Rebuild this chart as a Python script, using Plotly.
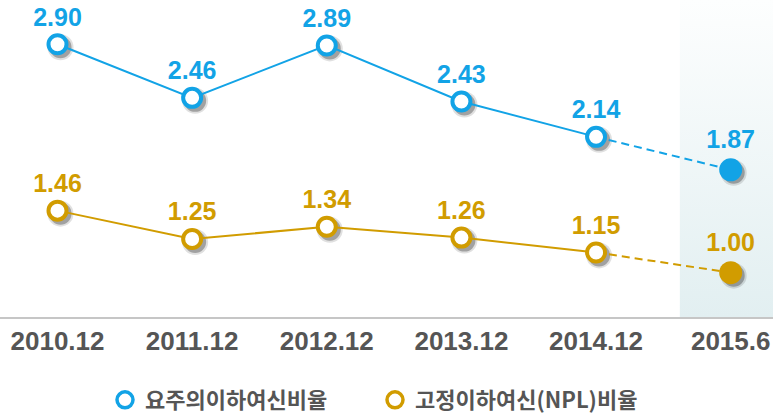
import plotly.graph_objects as go

# ---------------- data ----------------
periods = ["2010.12", "2011.12", "2012.12", "2013.12", "2014.12", "2015.6"]
substandard_ratio = [2.90, 2.46, 2.89, 2.43, 2.14, 1.87]   # 요주의이하여신비율
npl_ratio = [1.46, 1.25, 1.34, 1.26, 1.15, 1.00]           # 고정이하여신(NPL)비율
series_names = ["요주의이하여신비율", "고정이하여신(NPL)비율"]

# ---------------- styling ----------------
W, H = 773, 415
PLOT_H = 317
BLUE = "#12a3e6"
GOLD = "#d19c00"
GREY_TXT = "#555555"
NUM_FONT = "Liberation Sans"
KR_FONT = "Noto Sans CJK KR"

xpos = list(range(len(periods)))
X_RANGE = [-0.4271, 5.3142]
BLUE_RANGE = [0.6623, 3.2627]
GOLD_RANGE = [0.6710, 3.0226]
SHADOW_DX, SHADOW_DY = 3, 3  # px


def shift_x(r, px):
    u = (r[1] - r[0]) / W
    return [r[0] - px * u, r[1] - px * u]


def shift_y(r, px):
    u = (r[1] - r[0]) / PLOT_H
    return [r[0] + px * u, r[1] + px * u]


fig = go.Figure()

# shaded forecast region (on main subplot, behind everything)
sh_y = shift_y(BLUE_RANGE, SHADOW_DY)
fig.add_trace(go.Scatter(
    x=[4.60, 5.40, 5.40, 4.60, 4.60], y=[sh_y[0], sh_y[0], sh_y[1], sh_y[1], sh_y[0]],
    mode="lines", line=dict(width=0), fill="toself",
    fillgradient=dict(type="vertical", colorscale=[[0, "#e2eff1"], [1, "#fdfefe"]]),
    hoverinfo="skip", showlegend=False, xaxis="x", yaxis="y"))

# drop shadows of markers
for vals, ya in ((substandard_ratio, "y"), (npl_ratio, "y2")):
    for size, col in ((26, "rgba(0,0,0,0.12)"), (22, "rgba(0,0,0,0.28)")):
        fig.add_trace(go.Scatter(
            x=xpos, y=vals, mode="markers",
            marker=dict(size=size, color=col, line=dict(width=0)),
            hoverinfo="skip", showlegend=False, xaxis="x", yaxis=ya))

label_font_size = 25
for vals, col, ya in ((substandard_ratio, BLUE, "y3"), (npl_ratio, GOLD, "y4")):
    # dashed projection segment
    fig.add_trace(go.Scatter(
        x=xpos[4:], y=vals[4:], mode="lines",
        line=dict(color=col, width=2, dash="8px,5px"),
        hoverinfo="skip", showlegend=False, xaxis="x2", yaxis=ya))
    # solid historical line with open markers
    fig.add_trace(go.Scatter(
        x=xpos[:5], y=vals[:5], mode="lines+markers+text",
        line=dict(color=col, width=2),
        marker=dict(size=18, color="white", line=dict(color=col, width=4)),
        text=[f"{v:.2f}" for v in vals[:5]], textposition="top center",
        textfont=dict(family=NUM_FONT, size=label_font_size, color=col, weight="bold"),
        hoverinfo="skip", showlegend=False, xaxis="x2", yaxis=ya))
    # latest point filled
    fig.add_trace(go.Scatter(
        x=xpos[5:], y=vals[5:], mode="markers+text",
        marker=dict(size=23, color=col, line=dict(width=0)),
        text=[f"{v:.2f}" for v in vals[5:]], textposition="top center",
        textfont=dict(family=NUM_FONT, size=label_font_size, color=col, weight="bold"),
        hoverinfo="skip", showlegend=False, xaxis="x2", yaxis=ya))

# legend entries
for name, col in zip(series_names, (BLUE, GOLD)):
    fig.add_trace(go.Scatter(
        x=[None], y=[None], mode="markers", name=name,
        marker=dict(size=16, color="white", line=dict(color=col, width=3.5)),
        xaxis="x2", yaxis="y3"))

hidden = dict(visible=False, showgrid=False, zeroline=False, fixedrange=True)
fig.update_layout(
    width=W, height=H,
    margin=dict(l=0, r=0, t=0, b=H - PLOT_H, pad=0, autoexpand=False),
    paper_bgcolor="white", plot_bgcolor="white",
    xaxis=dict(range=shift_x(X_RANGE, SHADOW_DX), **hidden),
    yaxis=dict(range=shift_y(BLUE_RANGE, SHADOW_DY), **hidden),
    yaxis2=dict(range=shift_y(GOLD_RANGE, SHADOW_DY), overlaying="y", **hidden),
    yaxis3=dict(range=BLUE_RANGE, overlaying="y", **hidden),
    yaxis4=dict(range=GOLD_RANGE, overlaying="y", **hidden),
    xaxis2=dict(
        range=X_RANGE, overlaying="x", side="bottom", anchor="y3",
        tickmode="array", tickvals=xpos, ticktext=periods,
        showgrid=False, zeroline=False, showline=True, linecolor="#c6c6c6", linewidth=2,
        ticks="", tickfont=dict(family=NUM_FONT, size=26, color=GREY_TXT, weight="bold"),
        fixedrange=True),
    showlegend=True,
    legend=dict(
        orientation="h", x=105 / W, xanchor="left", y=-83 / PLOT_H, yanchor="middle",
        entrywidth=225, entrywidthmode="pixels",
        font=dict(family=KR_FONT, size=22, color=GREY_TXT, weight="bold"),
        bgcolor="rgba(0,0,0,0)", borderwidth=0, itemsizing="trace"),
)

fig.write_html("out.html", config={"displayModeBar": False},
               post_script="document.body.style.margin='0';")
